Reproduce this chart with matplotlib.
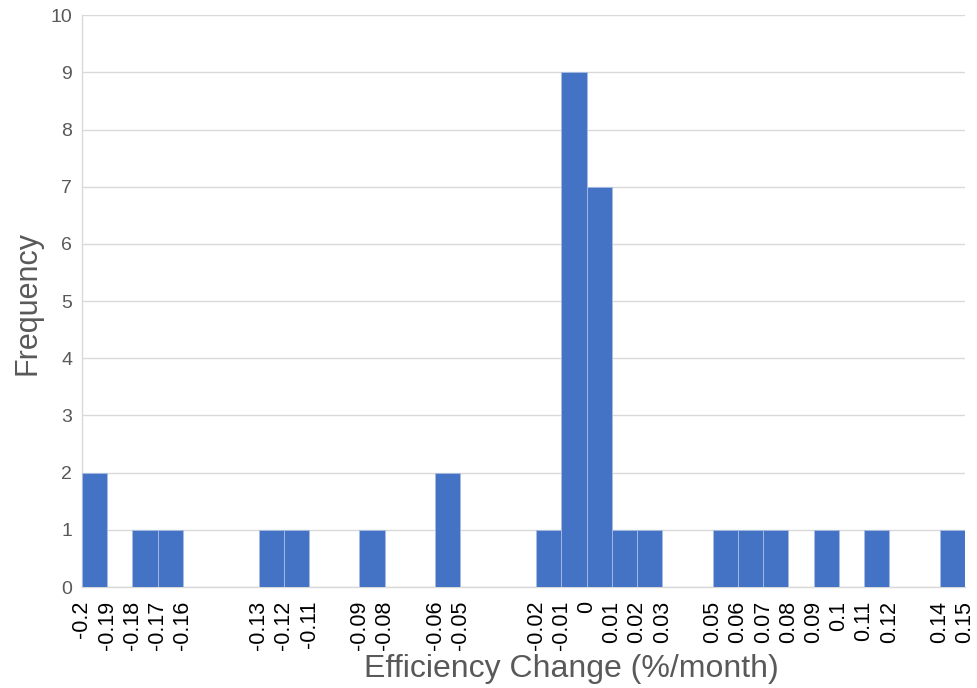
#!/usr/bin/env python
# -*- coding: utf-8 -*-

""" Histogram of monthly efficiency change """

import numpy as np
import matplotlib
matplotlib.use('Agg')
import matplotlib.pyplot as plt

# bin edges -0.20 .. 0.15 in steps of 0.01
bin_edges = np.round(np.arange(-0.20, 0.1501, 0.01), 2)
counts = [2, 0, 1, 1, 0, 0, 0, 1, 1, 0, 0, 1, 0, 0, 2, 0, 0, 0,
          1, 9, 7, 1, 1, 0, 0, 1, 1, 1, 0, 1, 0, 1, 0, 0, 1]
tick_values = [-0.2, -0.19, -0.18, -0.17, -0.16, -0.13, -0.12, -0.11,
               -0.09, -0.08, -0.06, -0.05, -0.02, -0.01, 0, 0.01, 0.02,
               0.03, 0.05, 0.06, 0.07, 0.08, 0.09, 0.1, 0.11, 0.12,
               0.14, 0.15]
tick_labels = ['%g' % v for v in tick_values]

plt.rcParams['font.family'] = ['Liberation Sans', 'DejaVu Sans']

BAR_COLOR = '#4472C4'
GRID_COLOR = '#d9d9d9'
TEXT_GRAY = '#595959'

fig = plt.figure(figsize=(9.77, 6.88), dpi=100)
ax = fig.add_axes([0.0839, 0.1468, 0.9038, 0.8312])

ax.bar(bin_edges[:-1], counts, width=np.diff(bin_edges), align='edge',
       color=BAR_COLOR, edgecolor='#a9bde3', linewidth=0.6, zorder=3)

ax.set_xlim(bin_edges[0], bin_edges[-1])
ax.set_ylim(0, 10)
ax.set_yticks(range(0, 11))
ax.yaxis.grid(True, color=GRID_COLOR, linewidth=1.0, zorder=0)
ax.set_axisbelow(True)

ax.set_xticks(tick_values)
ax.set_xticklabels(tick_labels, rotation=90, fontsize=15.5, color='black',
                   va='top', ha='center')
ax.tick_params(axis='x', length=0, pad=10)
ax.tick_params(axis='y', length=0, pad=7, labelsize=14, labelcolor=TEXT_GRAY)

for side in ['top', 'right']:
    ax.spines[side].set_visible(False)
ax.spines['left'].set_color(GRID_COLOR)
ax.spines['bottom'].set_color(GRID_COLOR)
ax.spines['left'].set_linewidth(1.0)
ax.spines['bottom'].set_linewidth(1.0)

fig.text(0.028, 0.560, 'Frequency', rotation=90, fontsize=22,
         color=TEXT_GRAY, ha='center', va='center')
fig.text(0.5845, 0.028, 'Efficiency Change (%/month)', fontsize=23,
         color=TEXT_GRAY, ha='center', va='center')

fig.savefig('out.png', dpi=100)
plt.close('all')
